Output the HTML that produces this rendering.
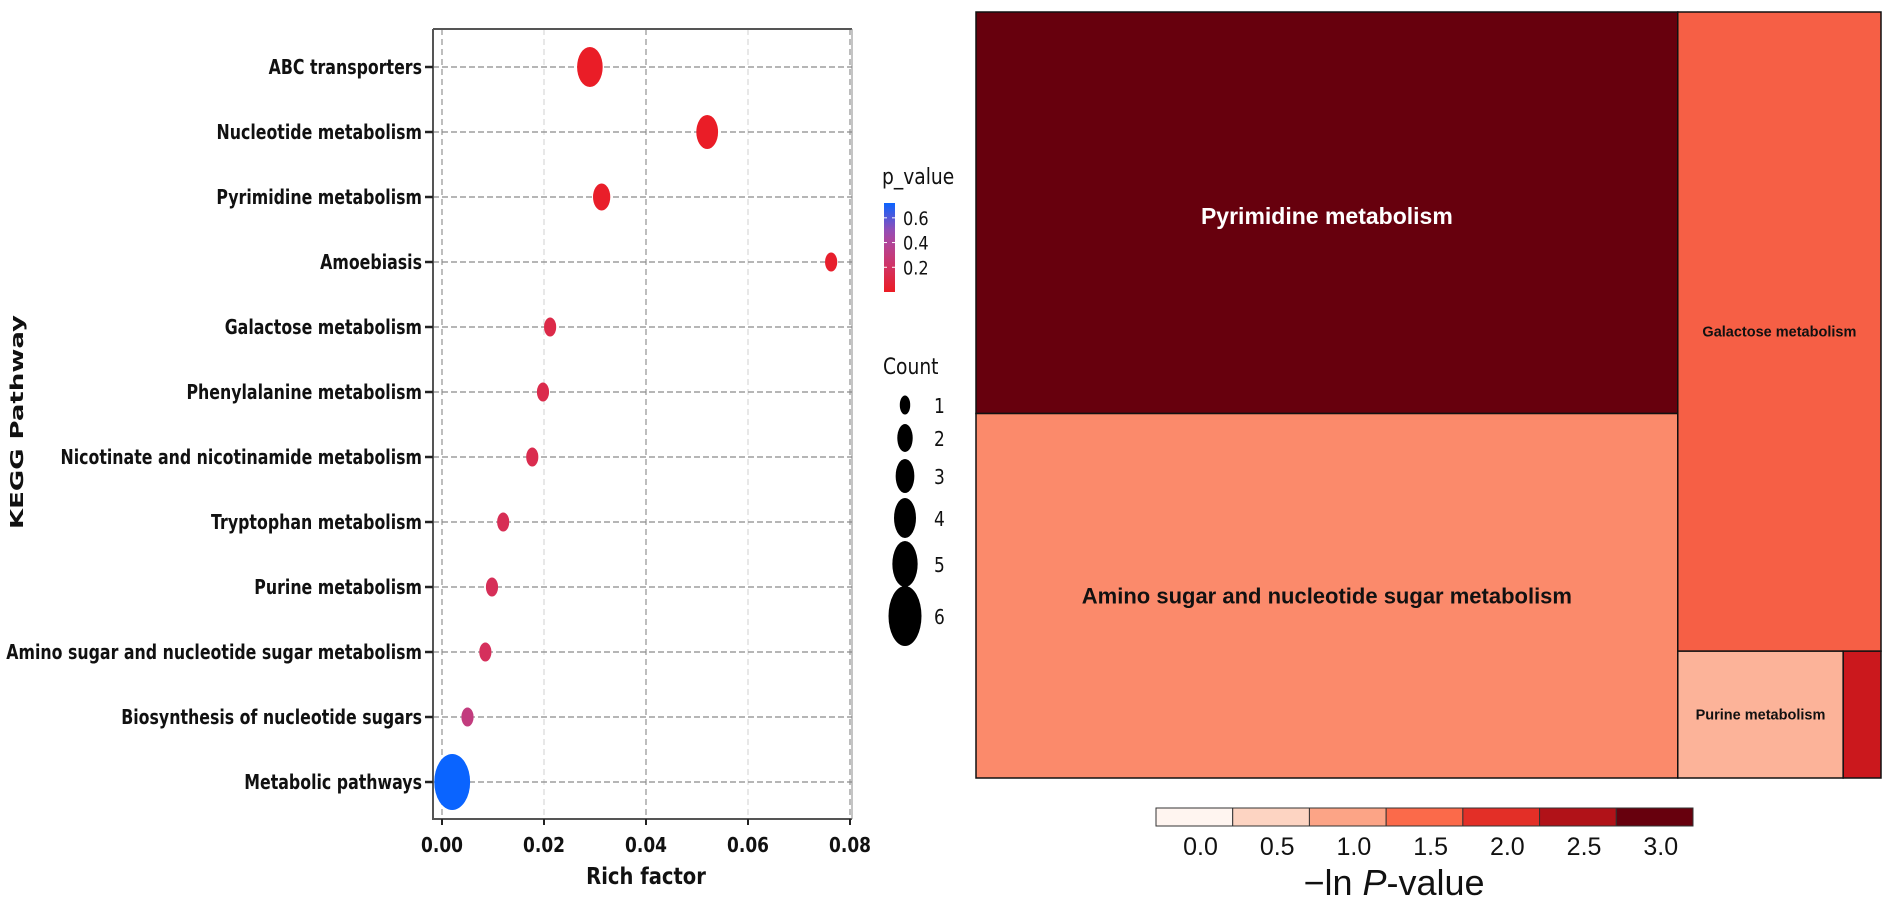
<!DOCTYPE html>
<html><head><meta charset="utf-8"><style>
html,body{margin:0;padding:0;background:#fff;}
svg{display:block;}
</style></head><body>
<svg id="fig" width="1890" height="907" viewBox="0 0 1890 907" xmlns="http://www.w3.org/2000/svg">
<g id="dot"></g>
<g id="tree"></g>
</svg>
<script>
// ---- bubble chart data ----
const pathways = ["ABC transporters","Nucleotide metabolism","Pyrimidine metabolism","Amoebiasis","Galactose metabolism","Phenylalanine metabolism","Nicotinate and nicotinamide metabolism","Tryptophan metabolism","Purine metabolism","Amino sugar and nucleotide sugar metabolism","Biosynthesis of nucleotide sugars","Metabolic pathways"];
const richFactor = [0.029,0.052,0.0313,0.0763,0.0212,0.0198,0.0177,0.012,0.0098,0.0085,0.005,0.002];
const counts = [4,3,2,1,1,1,1,1,1,1,1,6];
const pValues = [0.01,0.01,0.02,0.03,0.12,0.13,0.14,0.16,0.17,0.18,0.3,0.72];
const xTicks = [0,0.02,0.04,0.06,0.08];
const xTickLabels = ["0.00","0.02","0.04","0.06","0.08"];
const pTicks = [0.6,0.4,0.2];
const legendCounts = [1,2,3,4,5,6];
// ---- treemap data ----
const tmNames = ["Pyrimidine metabolism","Amino sugar and nucleotide sugar metabolism","Galactose metabolism","Purine metabolism",""];
const tmValues = [282,256,130,21,4.8];
const tmLnP = [3.05,1.1,1.5,0.7,2.3];
const cbTicks = [0.0,0.5,1.0,1.5,2.0,2.5,3.0];
const cbTickLabels = ["0.0","0.5","1.0","1.5","2.0","2.5","3.0"];

const NS="http://www.w3.org/2000/svg";
function mk(tag,attrs,parent,text){const e=document.createElementNS(NS,tag);for(const k in attrs)e.setAttribute(k,attrs[k]);if(text!==undefined)e.textContent=text;parent.appendChild(e);return e;}

// ===== bubble chart =====
const dot=document.getElementById('dot');
const PL=433,PR=852,PT=29,PB=819;
const xs=v=>442+v*(850-442)/0.08;
const ys=i=>67+i*65;
const ryByCount=c=>[0,9.5,13.5,17,20,23,28][c];
const F='"DejaVu Sans","Liberation Sans",sans-serif';
function cond(x,y,s){return `translate(${x},${y}) scale(${s},1)`;}
xTicks.forEach((t,i)=>{
  const g=mk('line',{x1:xs(t),x2:xs(t),y1:PT,y2:PB,stroke:i%2? '#dcdcdc':'#9a9a9a','stroke-width':1.3,'stroke-dasharray':'6,4'},dot);
  
  
});
pathways.forEach((p,i)=>{
  const g=mk('line',{x1:PL,x2:PR,y1:ys(i),y2:ys(i),stroke:'#8a8a8a','stroke-width':1.3,'stroke-dasharray':'6,3'},dot);
  
  
});
let ax=mk('path',{d:`M${PL},${PT} H${PR} M${PL},${PT} V${PB} H${PR}`,fill:'none',stroke:'#555','stroke-width':2},dot);

mk('line',{x1:PR,x2:PR,y1:PT,y2:PB,stroke:'#888','stroke-width':1},dot);
pathways.forEach((p,i)=>{
  mk('line',{x1:425,x2:PL,y1:ys(i),y2:ys(i),stroke:'#222','stroke-width':2.5},dot);
  const t=mk('text',{x:0,y:0,transform:cond(422,ys(i)+7,0.79),'text-anchor':'end','font-family':F,'font-weight':'bold','font-size':20,fill:'#111'},dot,p);
  
  
});
xTicks.forEach((t,i)=>{
  mk('line',{x1:xs(t),x2:xs(t),y1:PB,y2:PB+6,stroke:'#222','stroke-width':2},dot);
  const tx=mk('text',{x:0,y:0,transform:cond(xs(t),852,0.85),'text-anchor':'middle','font-family':F,'font-weight':'bold','font-size':20,fill:'#111'},dot,xTickLabels[i]);
  
  
});
let xt=mk('text',{x:0,y:0,transform:cond(646,884,0.85),'text-anchor':'middle','font-family':F,'font-weight':'bold','font-size':23,fill:'#111'},dot,'Rich factor');

let yt=mk('text',{x:0,y:0,transform:'translate(23,422) rotate(-90)','text-anchor':'middle','font-family':'"DejaVu Sans",sans-serif','font-weight':'bold','font-size':18,textLength:214,lengthAdjust:'spacingAndGlyphs',fill:'#111'},dot,'KEGG Pathway');

const pMin=0,pMax=0.72;
const cStops=[[235,28,36],[205,55,110],[160,75,175],[10,100,255]];
function pCol(p){let f=Math.max(0,Math.min(1,(p-pMin)/(pMax-pMin)));
  const n=cStops.length-1;const s=Math.min(n-1e-9,f*n);const k=Math.floor(s),u=s-k;
  const a=cStops[k],b=cStops[k+1];
  return `rgb(${a.map((v,j)=>Math.round(v+(b[j]-v)*u)).join(',')})`;}
pathways.forEach((p,i)=>{
  const ry=ryByCount(counts[i]);
  const e=mk('ellipse',{cx:xs(richFactor[i]),cy:ys(i),rx:ry*0.64,ry:ry,fill:pCol(pValues[i])},dot);
  
  
});
let lt=mk('text',{x:0,y:0,transform:cond(882,184,0.85),'font-family':F,'font-size':22,fill:'#111'},dot,'p_value');

const defs=mk('defs',{},dot);
const lg=mk('linearGradient',{id:'pg',x1:0,y1:1,x2:0,y2:0},defs);
for(let k=0;k<=10;k++){mk('stop',{offset:(k*10)+'%','stop-color':pCol(pMin+(pMax-pMin)*k/10)},lg);}
const cbY=p=>292-(p-pMin)/(pMax-pMin)*(292-203);
let cb=mk('rect',{x:884,y:203,width:11,height:89,fill:'url(#pg)'},dot);

pTicks.forEach(t=>{
  mk('line',{x1:884,x2:887,y1:cbY(t),y2:cbY(t),stroke:'#fff','stroke-width':1},dot);
  mk('line',{x1:892,x2:895,y1:cbY(t),y2:cbY(t),stroke:'#fff','stroke-width':1},dot);
  const tx=mk('text',{x:0,y:0,transform:cond(903,cbY(t)+7,0.85),'font-family':F,'font-size':19,fill:'#111'},dot,t.toFixed(1));
  
});
let ct=mk('text',{x:0,y:0,transform:cond(883,374,0.85),'font-family':F,'font-size':22,fill:'#111'},dot,'Count');

const legY=[405,438,476,518,564,616];
legendCounts.forEach((c,i)=>{
  const ry=[9.5,14,17,20,23,30][i];
  const e=mk('ellipse',{cx:905,cy:legY[i],rx:ry*0.55,ry:ry,fill:'#000'},dot);
  
  const tx=mk('text',{x:0,y:0,transform:cond(934,legY[i]+8,0.85),'font-family':F,'font-size':20,fill:'#111'},dot,String(c));
  
});

// ===== treemap =====
const tree=document.getElementById('tree');
const TX=976,TY=12,TW=905,TH=766;
const binCols=['#fff5f0','#fdd4c2','#fca486','#fb6a4a','#e32f27','#b11218','#67000d'];
function tmCol(v){let k=Math.round(v/0.5);k=Math.max(0,Math.min(6,k));return ['#fff5f0','#fcb399','#fb8a6b','#f65f45','#e32f27','#cb181d','#67000d'][k];}
const total=tmValues.reduce((a,b)=>a+b,0);
const col1=tmValues[0]+tmValues[1];
const w1=TW*col1/total, w2=TW-w1;
const rects=[];
rects.push([TX,TY,w1,TH*tmValues[0]/col1]);
rects.push([TX,TY+TH*tmValues[0]/col1,w1,TH*tmValues[1]/col1]);
const col2=total-col1;
const hg=TH*tmValues[2]/col2;
rects.push([TX+w1,TY,w2,hg]);
const rowSum=tmValues[3]+tmValues[4];
const wp=w2*tmValues[3]/rowSum;
rects.push([TX+w1,TY+hg,wp,TH-hg]);
rects.push([TX+w1+wp,TY+hg,w2-wp,TH-hg]);
const lblSize=[23,22,14.5,14.5,0];
rects.forEach((r,i)=>{
  const e=mk('rect',{x:r[0],y:r[1],width:r[2],height:r[3],fill:tmCol(tmLnP[i]),stroke:'#111','stroke-width':1.5},tree);
  
  
  if(tmNames[i]){
    const t=mk('text',{x:r[0]+r[2]/2,y:r[1]+r[3]/2+lblSize[i]*0.35,'text-anchor':'middle','font-family':'"Liberation Sans",Arial,sans-serif','font-weight':'bold','font-size':lblSize[i],fill:i===0?'#fff':'#111'},tree,tmNames[i]);
    
    
  }
});
tree.querySelectorAll('text')[0].setAttribute('y',224);
const CBX=1156,CBW=537,CBYt=808,CBH=18;
const segW=CBW/binCols.length;
binCols.forEach((c,i)=>{
  const e=mk('rect',{x:CBX+i*segW,y:CBYt,width:segW,height:CBH,fill:c,stroke:'#333','stroke-width':1},tree);
  
  
});
cbTicks.forEach((t,i)=>{
  const tx=mk('text',{x:CBX+segW*(i+0.5)+segW*0.08,y:855,'text-anchor':'middle','font-family':'"Liberation Sans",Arial,sans-serif','font-size':25,fill:'#111'},tree,cbTickLabels[i]);
  
  
});
const ttl=mk('text',{x:1394,y:895,'text-anchor':'middle','font-family':'"Liberation Sans",Arial,sans-serif','font-size':36,fill:'#111'},tree);


mk('tspan',{},ttl,'\u2212ln ');
mk('tspan',{'font-style':'italic'},ttl,'P');
mk('tspan',{},ttl,'-value');
</script>
</body></html>
